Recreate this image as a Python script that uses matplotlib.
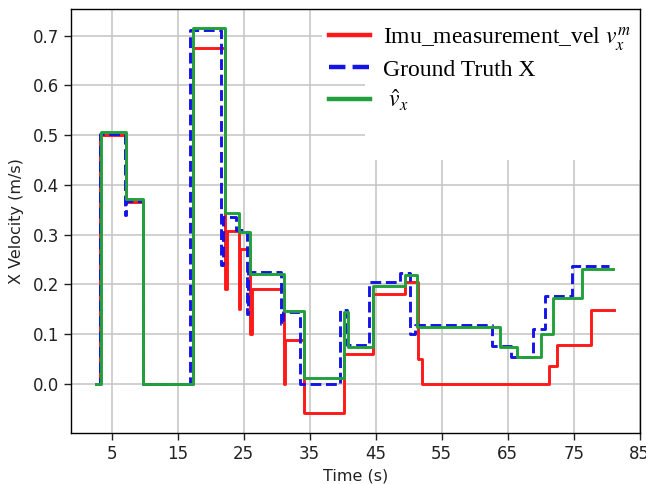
import matplotlib
matplotlib.use("Agg")
import matplotlib.pyplot as plt
from matplotlib.patches import Rectangle

# ---- data (step functions: change times and values) ----
gt_t = [2.6, 3.3, 7.05, 7.2, 9.7, 16.8, 21.6, 21.8, 23.9, 25.45, 25.6, 30.6, 31.0,
        33.55, 39.6, 40.7, 44.0, 48.7, 50.25, 51.0, 62.7, 65.5, 68.8, 70.6, 74.7, 80.4]
gt_v = [0.0, 0.502, 0.34, 0.368, 0.0, 0.712, 0.24, 0.336, 0.31, 0.14, 0.225, 0.12, 0.145,
        0.0, 0.148, 0.078, 0.204, 0.223, 0.10, 0.119, 0.077, 0.055, 0.11, 0.177, 0.237, 0.237]

est_t = [2.6, 3.35, 7.1, 9.8, 17.3, 22.2, 24.35, 26.0, 31.1, 34.15, 40.2, 40.8, 44.6,
         49.5, 51.3, 63.9, 66.4, 70.0, 71.9, 76.2, 81.0]
est_v = [0.0, 0.506, 0.371, 0.0, 0.716, 0.343, 0.306, 0.222, 0.147, 0.013, 0.145, 0.075, 0.196,
         0.219, 0.115, 0.075, 0.055, 0.10, 0.172, 0.231, 0.231]

imu_t = [2.6, 3.3, 7.1, 9.8, 17.3, 22.2, 22.4, 24.35, 24.5, 26.0, 26.2, 31.1, 31.3,
         34.15, 40.2, 44.6, 49.5, 51.4, 52.0, 71.3, 72.5, 77.7, 81.1]
imu_v = [0.0, 0.50, 0.365, 0.0, 0.676, 0.19, 0.308, 0.15, 0.271, 0.10, 0.19, 0.0, 0.088,
         -0.058, 0.06, 0.18, 0.205, 0.05, 0.0, 0.036, 0.078, 0.148, 0.148]

x_ticks = [5, 15, 25, 35, 45, 55, 65, 75, 85]
y_ticks = [0.0, 0.1, 0.2, 0.3, 0.4, 0.5, 0.6, 0.7]

label_imu = r"Imu_measurement_vel $v_x^m$"
label_gt = "Ground Truth X"
label_est = r" $\hat{v}_x$"

plt.rcParams['mathtext.fontset'] = 'stix'

fig = plt.figure(figsize=(6.46, 4.84), dpi=100)
ax = fig.add_axes([0.1099, 0.1054, 0.8808, 0.8760])

ax.step(imu_t, imu_v, where='post', color='#ff1a1a', lw=2.1, label=label_imu, zorder=3)
ax.step(gt_t, gt_v, where='post', color='#1414e6', lw=2.1, ls='--', label=label_gt, zorder=4)
ax.step(est_t, est_v, where='post', color='#22a03c', lw=2.1, label=label_est, zorder=5)

ax.set_xlim(-1.17, 85.05)
ax.set_ylim(-0.0985, 0.7536)
ax.set_xticks(x_ticks)
ax.set_yticks(y_ticks)
ax.set_yticklabels([f"{v:.1f}" for v in y_ticks])
ax.grid(True, color='#c4c4c4', lw=1.1, zorder=0)
ax.set_axisbelow(True)
ax.tick_params(axis='both', labelsize=12, colors='#222222', length=5, width=1)
for s in ax.spines.values():
    s.set_color('black')
    s.set_linewidth(1.0)

ax.set_xlabel("Time (s)", fontsize=11.5, color='#222222', labelpad=4)
ax.set_ylabel("X Velocity (m/s)", fontsize=11.5, color='#222222', labelpad=6)

# white areas behind legend (pasted legend region)
ax.add_patch(Rectangle((0.517, 0.644), 0.483, 0.356, transform=ax.transAxes,
                       facecolor='white', edgecolor='none', zorder=1.5))
ax.add_patch(Rectangle((0.441, 0.903), 0.08, 0.097, transform=ax.transAxes,
                       facecolor='white', edgecolor='none', zorder=1.5))

leg = ax.legend(loc='upper left', bbox_to_anchor=(0.436, 0.985), borderaxespad=0,
                frameon=False, prop={'family': 'Liberation Serif', 'size': 17},
                handlelength=1.75, handletextpad=0.55, labelspacing=0.28)
for line in leg.get_lines():
    line.set_linewidth(3.2)

fig.savefig("out.png", dpi=100)
